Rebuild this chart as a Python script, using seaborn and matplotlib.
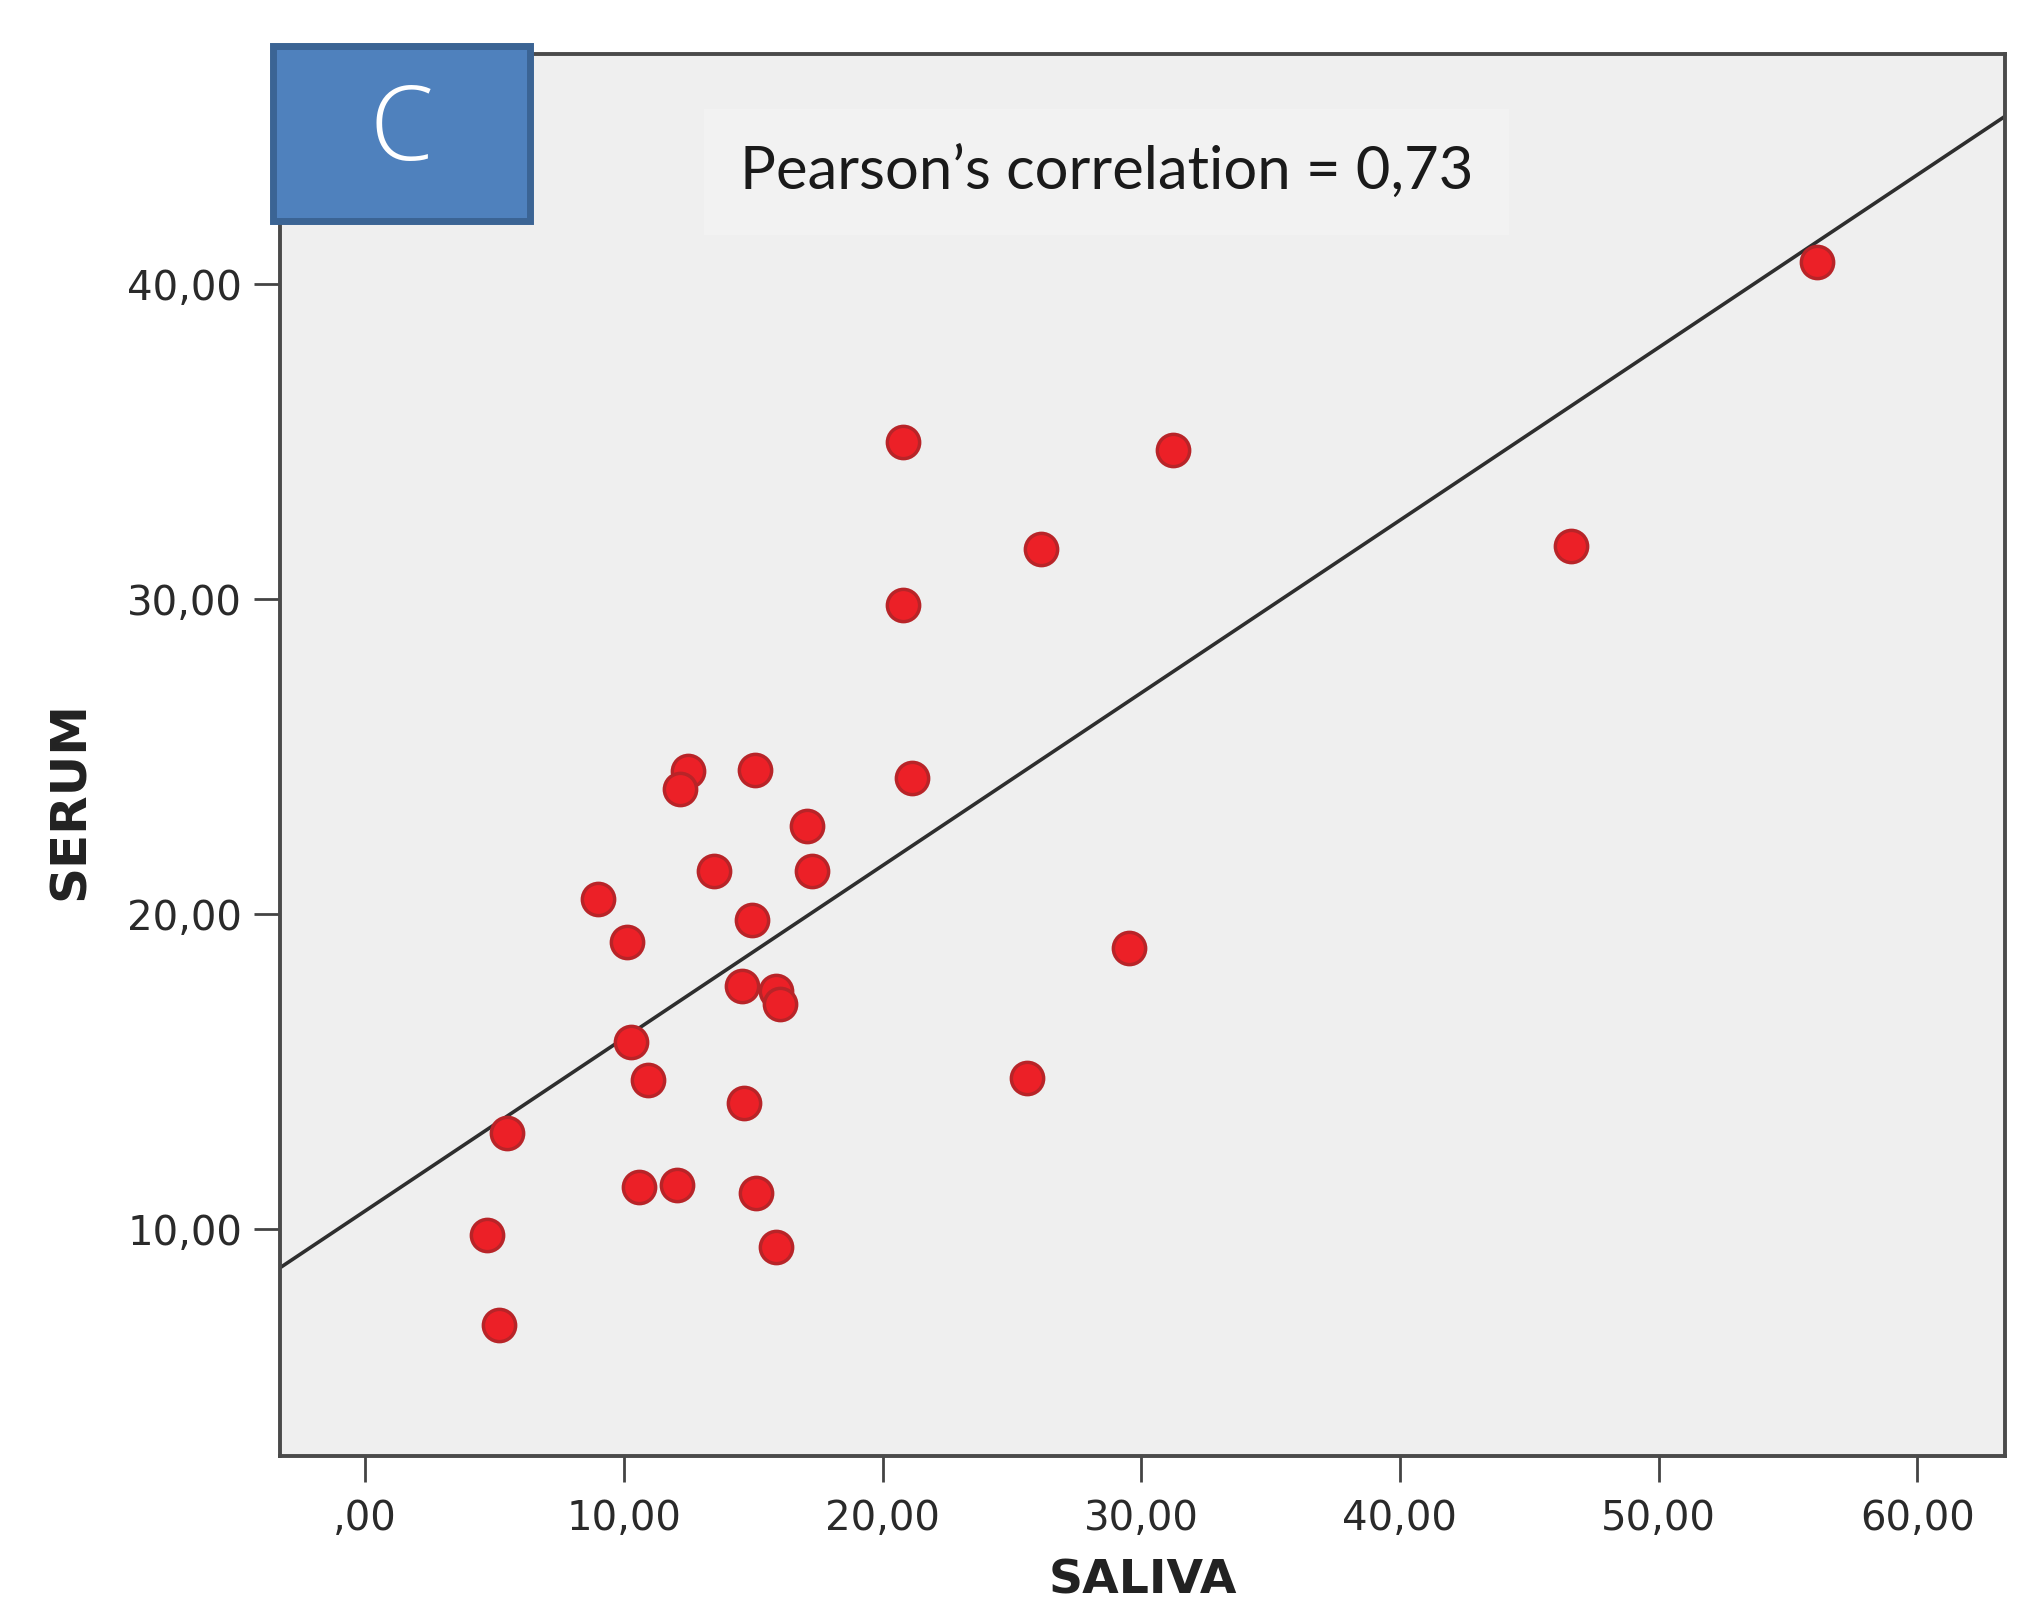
import numpy as np
import pandas as pd
import seaborn as sns
import matplotlib
matplotlib.use("Agg")
import matplotlib.pyplot as plt
from matplotlib.patches import Rectangle

# values
saliva = [56.14, 20.80, 31.22, 26.13, 46.63, 20.80, 12.49, 12.19, 15.06, 21.15,
          17.07, 13.49, 17.27, 9.01, 14.95, 10.12, 29.51, 14.55, 15.90, 16.05,
          10.27, 10.93, 25.58, 14.65, 5.49, 10.60, 12.06, 15.10, 4.73, 15.89, 5.18]
serum = [40.70, 35.00, 34.75, 31.61, 31.69, 29.83, 24.55, 23.97, 24.59, 24.34,
         22.81, 21.36, 21.36, 20.50, 19.83, 19.13, 18.93, 17.73, 17.55, 17.15,
         15.95, 14.75, 14.79, 14.00, 13.06, 11.35, 11.40, 11.16, 9.82, 9.44, 6.97]

x_ticks = [0, 10, 20, 30, 40, 50, 60]
x_tick_labels = [",00", "10,00", "20,00", "30,00", "40,00", "50,00", "60,00"]
y_ticks = [10, 20, 30, 40]
y_tick_labels = ["10,00", "20,00", "30,00", "40,00"]
x_range = (-3.3, 63.4)
y_range = (2.8, 47.3)

panel_letter = "C"
note = "Pearson\u2019s correlation = 0,73"

df = pd.DataFrame({"SALIVA": saliva, "SERUM": serum})

sns.set_style("white")
plt.rcParams["font.family"] = ["DejaVu Sans"]

fig = plt.figure(figsize=(20.42, 16), dpi=100)
ax = fig.add_axes([0.137, 0.09, 0.845, 0.876])
ax.set_facecolor("#efefef")
ax.set_xlim(*x_range)
ax.set_ylim(*y_range)

sns.regplot(data=df, x="SALIVA", y="SERUM", ax=ax, ci=None, truncate=False,
            scatter_kws=dict(s=540, color="#ec2027", edgecolor="#b82428",
                             linewidths=2.5, alpha=1, zorder=3),
            line_kws=dict(color="#2e2e2e", lw=2.6, zorder=2))
ax.set_xlim(*x_range)
ax.set_ylim(*y_range)

ax.set_xticks(x_ticks)
ax.set_xticklabels(x_tick_labels)
ax.set_yticks(y_ticks)
ax.set_yticklabels(y_tick_labels)
ax.tick_params(axis="both", which="major", direction="out", length=19, width=2,
               color="#444444", labelsize=29, labelcolor="#2a2a2a", pad=8,
               bottom=True, left=True)
ax.tick_params(axis="x", pad=12)
for lab in ax.get_xticklabels() + ax.get_yticklabels():
    lab.set_fontweight("medium")

for s in ax.spines.values():
    s.set_color("#4a4a4a")
    s.set_linewidth(2.8)

ax.set_xlabel("SALIVA", fontsize=34, fontweight="bold", labelpad=14, color="#222222")
ax.set_ylabel("")
fig.text(0.034, 0.5, "SERUM", rotation=90, fontsize=36, fontweight="bold",
         ha="center", va="center", color="#222222")

ax.text(0.479, 0.916, note, transform=ax.transAxes, ha="center", va="center",
        fontsize=43, family=["Lato", "DejaVu Sans"], color="#1a1a1a",
        bbox=dict(boxstyle="square,pad=0.6", fc="#f2f2f2", ec="none"))

box = Rectangle((0.1337, 0.862), 0.1259, 0.1094, transform=fig.transFigure,
                facecolor="#4f81bd", edgecolor="#3b6494", linewidth=5, zorder=10)
fig.add_artist(box)
fig.text(0.1337 + 0.1259 / 2, 0.862 + 0.1094 / 2, panel_letter, ha="center",
         va="center", fontsize=74, color="white", family=["Open Sans", "DejaVu Sans"],
         fontweight="light", zorder=11)

fig.savefig("out.png", dpi=100, facecolor="white")
